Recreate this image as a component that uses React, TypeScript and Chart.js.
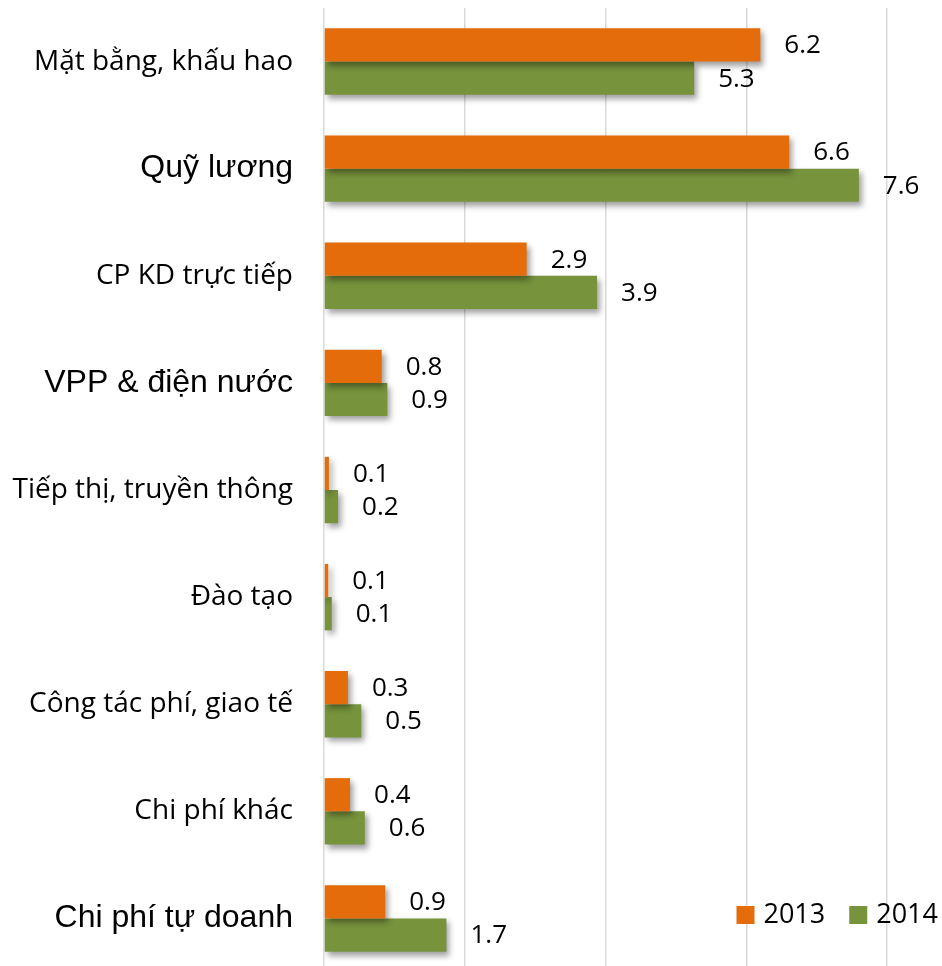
import React, { useEffect, useRef } from "react";
import { Chart, registerables } from "chart.js";

Chart.register(...registerables);

const categories = [
  "Mặt bằng, khấu hao",
  "Quỹ lương",
  "CP KD trực tiếp",
  "VPP & điện nước",
  "Tiếp thị, truyền thông",
  "Đào tạo",
  "Công tác phí, giao tế",
  "Chi phí khác",
  "Chi phí tự doanh",
];

const seriesNames = ["2013", "2014"];
const values2013 = [6.2, 6.61, 2.88, 0.82, 0.07, 0.06, 0.34, 0.37, 0.87];
const values2014 = [5.26, 7.6, 3.88, 0.9, 0.2, 0.11, 0.53, 0.58, 1.74];

const xTicks = [0, 2, 4, 6, 8];

const COLORS = ["#E46C0A", "#77933C"];
const ARIAL_LABELS = new Set([1, 3, 8]);
const CALIBRI_LIKE = "'Open Sans', 'Noto Sans', sans-serif";
const ARIAL_LIKE = "'Liberation Sans', Arial, sans-serif";

const fmt = (v: number) => (Math.round(v * 10) / 10).toFixed(1);

const shadowPlugin = {
  id: "barShadow",
  beforeDatasetsDraw(chart: any) {
    const ctx = chart.ctx;
    ctx.save();
    ctx.shadowColor = "rgba(0,0,0,0.38)";
    ctx.shadowBlur = 6;
    ctx.shadowOffsetX = 3;
    ctx.shadowOffsetY = 4;
  },
  afterDatasetsDraw(chart: any) {
    chart.ctx.restore();
  },
};

const labelPlugin = {
  id: "valueLabels",
  afterDraw(chart: any) {
    const ctx = chart.ctx;
    ctx.save();
    ctx.fillStyle = "#000";
    ctx.font = `26px ${CALIBRI_LIKE}`;
    ctx.textAlign = "left";
    ctx.textBaseline = "middle";
    chart.data.datasets.forEach((ds: any, di: number) => {
      const meta = chart.getDatasetMeta(di);
      meta.data.forEach((bar: any, i: number) => {
        ctx.fillText(fmt(ds.data[i]), bar.x + 24, bar.y + 1);
      });
    });

    // legend
    ctx.font = `27px ${CALIBRI_LIKE}`;
    const box = 18;
    const gapBoxText = 9;
    const gapItems = 24;
    const items = chart.data.datasets.map((ds: any) => ({
      label: ds.label,
      color: ds.backgroundColor,
      w: ctx.measureText(ds.label).width,
    }));
    const total = items.reduce(
      (s: number, it: any, idx: number) => s + box + gapBoxText + it.w + (idx > 0 ? gapItems : 0),
      0
    );
    let x = chart.width - 4 - total;
    const cy = chart.chartArea.bottom - 57;
    items.forEach((it: any, idx: number) => {
      if (idx > 0) x += gapItems;
      ctx.fillStyle = it.color;
      ctx.fillRect(x, cy - box / 2, box, box);
      x += box + gapBoxText;
      ctx.fillStyle = "#000";
      ctx.fillText(it.label, x, cy);
      x += it.w;
    });
    ctx.restore();
  },
};

export default function App() {
  const ref = useRef<HTMLCanvasElement | null>(null);

  useEffect(() => {
    if (!ref.current) return;
    const chart = new Chart(ref.current, {
      type: "bar",
      data: {
        labels: categories,
        datasets: [
          {
            label: seriesNames[0],
            data: values2013,
            backgroundColor: COLORS[0],
            categoryPercentage: 0.62,
            barPercentage: 1,
          },
          {
            label: seriesNames[1],
            data: values2014,
            backgroundColor: COLORS[1],
            categoryPercentage: 0.62,
            barPercentage: 1,
          },
        ],
      },
      options: {
        indexAxis: "y",
        animation: false,
        responsive: false,
        layout: { padding: { top: 8, right: 55, bottom: 0, left: 0 } },
        plugins: {
          legend: { display: false },
          tooltip: { enabled: false },
        },
        scales: {
          x: {
            min: xTicks[0],
            max: xTicks[xTicks.length - 1],
            afterBuildTicks: (scale: any) => {
              scale.ticks = xTicks.map((v) => ({ value: v }));
            },
            afterFit: (scale: any) => {
              scale.height = 0;
              scale.paddingLeft = 0;
              scale.paddingRight = 0;
            },
            ticks: { display: false },
            grid: { color: "#d9d9d9", lineWidth: 1.5, drawTicks: false },
            border: { display: false },
          },
          y: {
            grid: { display: false, drawTicks: false },
            border: { display: false },
            afterFit: (scale: any) => {
              scale.width = 324;
              scale.paddingTop = 0;
              scale.paddingBottom = 0;
            },
            ticks: {
              padding: 31,
              color: "#000",
              autoSkip: false,
              font: (ctx: any) =>
                ARIAL_LABELS.has(ctx.index)
                  ? { family: ARIAL_LIKE, size: 32 }
                  : { family: CALIBRI_LIKE, size: 28 },
            },
          },
        },
      },
      plugins: [shadowPlugin, labelPlugin],
    });
    return () => chart.destroy();
  }, []);

  return (
    <div
      style={{
        position: "fixed",
        top: 0,
        left: 0,
        width: 942,
        height: 966,
        overflow: "hidden",
        background: "#fff",
      }}
    >
      <canvas ref={ref} width={942} height={972} style={{ display: "block" }} />
    </div>
  );
}
